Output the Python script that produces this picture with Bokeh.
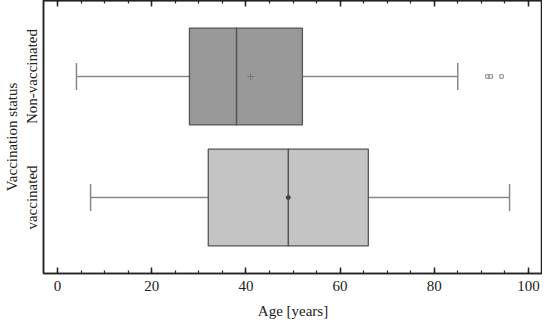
import math
from bokeh.plotting import figure
from bokeh.models import FactorRange, LinearAxis, FixedTicker, Range1d
from bokeh.embed import file_html
from bokeh.resources import INLINE

# ---- data ----
groups = ["vaccinated", "Non-vaccinated"]
q1 = [32, 28]
median = [49, 38]
q3 = [66, 52]
whisker_low = [7, 4]
whisker_high = [96, 85]
mean = [49, 41]
outlier_group = ["Non-vaccinated", "Non-vaccinated", "Non-vaccinated"]
outlier_age = [91.3, 92.0, 94.3]
x_major_ticks = [0, 20, 40, 60, 80, 100]
x_minor_ticks = list(range(0, 101, 5))

# ---- styles ----
box_colors = ["#c4c4c4", "#999999"]
mean_markers = ["circle", "cross"]
mean_sizes = [4, 7]
mean_colors = ["#444444", "#777777"]
FONT = "Liberation Serif"
INK = "#222222"

p = figure(width=542, height=321,
           y_range=FactorRange(factors=groups, range_padding=0.128,
                               range_padding_units="absolute"),
           x_range=Range1d(-3, 103),
           output_backend="svg", toolbar_location=None,
           min_border_top=0, min_border_right=0, min_border_left=0,
           min_border_bottom=0)

p.xgrid.visible = False
p.ygrid.visible = False
p.outline_line_color = INK
p.outline_line_width = 1.5
p.background_fill_color = "white"
p.border_fill_color = "white"

# whiskers
p.segment(x0=whisker_low, y0=groups, x1=q1, y1=groups,
          line_color="#888888", line_width=1.5)
p.segment(x0=q3, y0=groups, x1=whisker_high, y1=groups,
          line_color="#888888", line_width=1.5)
p.scatter(x=whisker_low + whisker_high, y=groups + groups, marker="dash",
          angle=math.pi / 2, size=27, line_color="#888888", line_width=1.5)

# boxes
p.hbar(y=groups, left=q1, right=q3, height=0.8, fill_color=box_colors,
       line_color="#555555", line_width=1.3)
# medians
p.rect(x=median, y=groups, width=0.001, height=0.8, fill_color=None,
       line_color="#555555", line_width=1.5)
# means
p.scatter(x=mean, y=groups, marker=mean_markers, size=mean_sizes,
          fill_color=mean_colors, line_color=mean_colors, line_width=1)
# outliers
p.scatter(x=outlier_age, y=outlier_group, marker="square", size=3.5,
          fill_color=None, line_color="#888888", line_width=1)

# bottom axis
ax = p.xaxis[0]
ax.ticker = FixedTicker(ticks=x_major_ticks, minor_ticks=x_minor_ticks)
ax.major_tick_in = 6
ax.major_tick_out = 0
ax.minor_tick_in = 3
ax.minor_tick_out = 0
ax.axis_line_width = 1.5
ax.axis_line_color = INK
ax.major_tick_line_color = INK
ax.major_tick_line_width = 1.5
ax.minor_tick_line_color = INK
ax.minor_tick_line_width = 1.2
ax.major_label_text_font = FONT
ax.major_label_text_font_size = "15px"
ax.major_label_text_color = INK
ax.major_label_standoff = 7
ax.axis_label = "Age [years]"
ax.axis_label_text_font = FONT
ax.axis_label_text_font_size = "15px"
ax.axis_label_text_font_style = "normal"
ax.axis_label_text_color = INK
ax.axis_label_standoff = 9

# top axes (ticks only, no labels): long ticks at majors, short at minors
top_major = LinearAxis(ticker=FixedTicker(ticks=[], minor_ticks=x_major_ticks),
                       minor_tick_in=6, minor_tick_out=0, major_tick_in=0,
                       major_tick_out=0, major_label_standoff=0,
                       axis_line_color=INK, axis_line_width=1.5,
                       minor_tick_line_color=INK, minor_tick_line_width=1.5)
top_minor = LinearAxis(ticker=FixedTicker(ticks=[], minor_ticks=x_minor_ticks),
                       minor_tick_in=3, minor_tick_out=0, major_tick_in=0,
                       major_tick_out=0, major_label_standoff=0,
                       axis_line_color=INK, axis_line_width=1.5,
                       minor_tick_line_color=INK, minor_tick_line_width=1.2)
p.add_layout(top_major, "above")
p.add_layout(top_minor, "above")

# left axis
ay = p.yaxis[0]
ay.major_tick_in = 0
ay.major_tick_out = 0
ay.axis_line_width = 1.5
ay.axis_line_color = INK
ay.major_label_orientation = "vertical"
ay.major_label_text_font = FONT
ay.major_label_text_font_size = "15px"
ay.major_label_text_color = INK
ay.major_label_standoff = 3
ay.axis_label = "Vaccination status"
ay.axis_label_text_font = FONT
ay.axis_label_text_font_size = "15px"
ay.axis_label_text_font_style = "normal"
ay.axis_label_text_color = INK
ay.axis_label_standoff = 2

open("out.html", "w").write(file_html(p, INLINE))
